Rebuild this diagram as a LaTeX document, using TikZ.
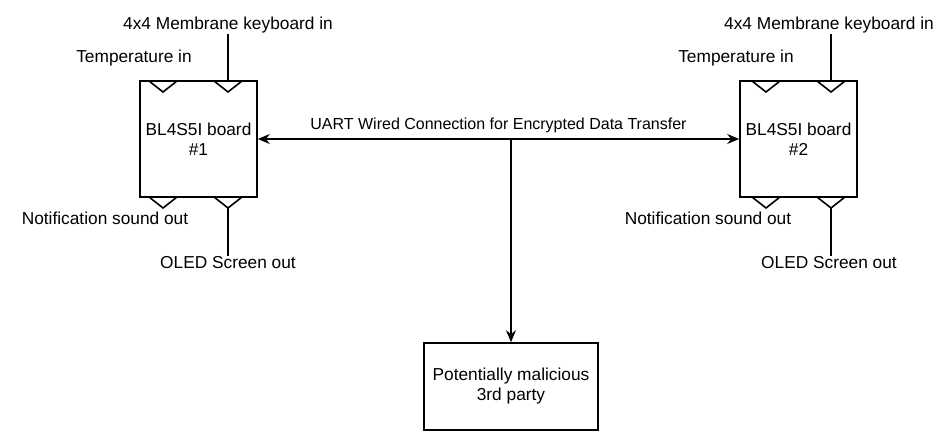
\documentclass[tikz,border=0pt]{standalone}
\usepackage{fontspec}
\setmainfont{Liberation Sans}
\usepackage{tikz}
\usetikzlibrary{arrows.meta}

\tikzset{
  board/.style={draw, line width=1.6pt, minimum width=117pt, minimum height=116pt, align=center},
  lbl/.style={inner sep=1pt, font=\fontsize{17.3}{20}\selectfont},
  wire/.style={line width=1.6pt},
  tip/.style={-{Stealth[length=12pt,width=10pt]}}
}
% port triangle hanging under a point
\newcommand{\porttri}[1]{\draw[wire, fill=white] (#1) ++(-14,0) -- ++(28,0) -- ++(-14,11) -- cycle;}

\begin{document}
\begin{tikzpicture}[x=1pt, y=-1pt, font=\fontsize{17.3}{20}\selectfont]
\useasboundingbox (0,0) rectangle (946,433);

% Boards
\node[board] at (198.5,139) (b1) {BL4S5I board\\\#1};
\node[board] at (798.5,139) (b2) {BL4S5I board\\\#2};
\node[board, minimum width=174pt, minimum height=87pt] at (511,386.5) (b3) {Potentially malicious\\3rd party};

% Ports on board 1
\coordinate (t1) at (163,81);
\coordinate (k1) at (228,81);
\coordinate (n1) at (163,197);
\coordinate (o1) at (228,197);
\coordinate (o1tip) at (228,208);
\porttri{t1} \porttri{k1} \porttri{n1} \porttri{o1}

% Ports on board 2
\coordinate (t2) at (766,81);
\coordinate (k2) at (831,81);
\coordinate (n2) at (766,197);
\coordinate (o2) at (831,197);
\coordinate (o2tip) at (831,208);
\porttri{t2} \porttri{k2} \porttri{n2} \porttri{o2}

% Labels, board 1
\node[lbl] at (228,25) (kb1) {4x4 Membrane keyboard in};
\node[lbl] at (134,58) (tl1) {Temperature in};
\node[lbl] at (105,218) (nl1) {Notification sound out};
\node[lbl] at (228,263) (ol1) {OLED Screen out};

% Labels, board 2
\node[lbl] at (829,25) (kb2) {4x4 Membrane keyboard in};
\node[lbl] at (736,58) (tl2) {Temperature in};
\node[lbl] at (708,218) (nl2) {Notification sound out};
\node[lbl] at (829,263) (ol2) {OLED Screen out};

% Wires to the ports
\draw[wire] (kb1.south -| k1) -- (k1);
\draw[wire] (k2 |- kb2.south) -- (k2);
\draw[wire] (o1tip) -- (ol1.north -| o1tip);
\draw[wire] (o2tip) -- (ol2.north -| o2tip);

% UART link and the tap
\draw[wire, {Stealth[length=12pt,width=10pt]}-{Stealth[length=12pt,width=10pt]}] (b1.east) -- (b2.west)
  node[midway, above=4pt, lbl, font=\fontsize{16}{19}\selectfont] (uart) {UART Wired Connection for Encrypted Data Transfer};
\draw[wire, tip] (b1.east -| b3.north) -- (b3.north);
\end{tikzpicture}
\end{document}
